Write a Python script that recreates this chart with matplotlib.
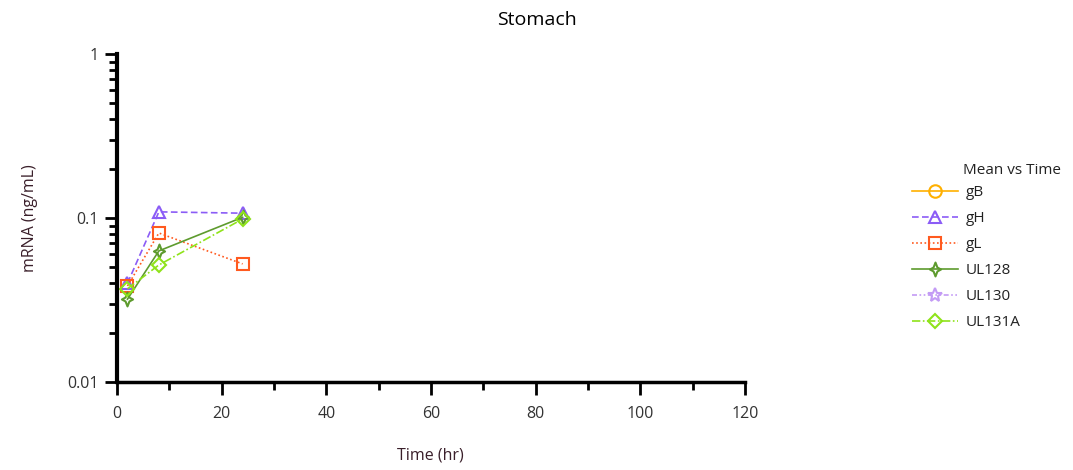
import matplotlib
matplotlib.use("Agg")
import matplotlib.pyplot as plt
from matplotlib.path import Path
from matplotlib.ticker import LogLocator, NullFormatter, MultipleLocator

plt.rcParams['font.family'] = ['Open Sans', 'DejaVu Sans']

time_gB = []
mean_gB = []
time_gH = [2, 8, 24]
mean_gH = [0.040, 0.109, 0.107]
time_gL = [2, 8, 24]
mean_gL = [0.0385, 0.081, 0.0525]
time_UL128 = [2, 8, 24]
mean_UL128 = [0.032, 0.063, 0.101]
time_UL130 = []
mean_UL130 = []
time_UL131A = [2, 8, 24]
mean_UL131A = [0.037, 0.0517, 0.0986]

star4 = Path([(0, 1), (0.28, 0.28), (0.8, 0), (0.28, -0.28), (0, -1),
              (-0.28, -0.28), (-0.8, 0), (-0.28, 0.28), (0, 1)],
             [Path.MOVETO] + [Path.LINETO] * 7 + [Path.CLOSEPOLY])

series = [
    ("gB", time_gB, mean_gB, "#FFB000", "-", "o", 9),
    ("gH", time_gH, mean_gH, "#8B5CF6", (0, (4, 2)), "^", 9),
    ("gL", time_gL, mean_gL, "#FF5A1F", (0, (1, 1.5)), "s", 9),
    ("UL128", time_UL128, mean_UL128, "#5E9B2E", "-", star4, 10),
    ("UL130", time_UL130, mean_UL130, "#C39BF5", (0, (3, 1.5, 1, 1.5, 1, 1.5)), "*", 10),
    ("UL131A", time_UL131A, mean_UL131A, "#8FE31A", (0, (5, 1.5, 1, 1.5)), "D", 7),
]

fig = plt.figure(figsize=(10.73, 4.70), dpi=100)
ax = fig.add_axes([117/1073, 88/470, (745-117)/1073, (382-54)/470])

for name, t, m, c, ls, mk, ms in series:
    ax.plot(t, m, color=c, linestyle=ls, linewidth=1.2, marker=mk, markersize=ms,
            markerfacecolor='none', markeredgecolor=c, markeredgewidth=1.5, label=name)

ax.set_yscale('log')
ax.set_ylim(0.01, 1)
ax.set_xlim(0, 120)
ax.set_yticks([0.01, 0.1, 1])
ax.set_yticklabels(['0.01', '0.1', '1'])
ax.yaxis.set_minor_locator(LogLocator(base=10, subs=range(2, 10)))
ax.yaxis.set_minor_formatter(NullFormatter())
ax.xaxis.set_major_locator(MultipleLocator(20))
ax.xaxis.set_minor_locator(MultipleLocator(10))

for s in ('top', 'right'):
    ax.spines[s].set_visible(False)
ax.spines['left'].set_linewidth(3)
ax.spines['bottom'].set_linewidth(2.5)
ax.tick_params(axis='both', which='major', length=9, width=2, labelsize=11.5, color='black', labelcolor='#333333', pad=4)
ax.tick_params(axis='both', which='minor', length=6, width=2, color='black')
ax.tick_params(axis='x', pad=8)

fig.text(0.5, 1 - 20/470, "Stomach", ha='center', va='center', fontsize=14, color='black')
fig.text(30/1073, 1 - 218/470, "mRNA (ng/mL)", rotation=90, ha='center', va='center', fontsize=11.5, color='#3a1f2a')
fig.text(430/1073, 1 - 455/470, "Time (hr)", ha='center', va='center', fontsize=11.5, color='#3a1f2a')

fig.text(963/1073, 1 - 170/470, "Mean vs Time", ha='left', va='center', fontsize=11, color='#222222')
leg = fig.legend(loc='upper left', bbox_to_anchor=(912/1073, 1 - 185/470), frameon=False,
                 fontsize=11, handlelength=3.0, borderpad=0, borderaxespad=0,
                 labelspacing=0.72, handletextpad=0.5)
for txt in leg.get_texts():
    txt.set_color('#222222')

fig.savefig("out.png", dpi=100)
